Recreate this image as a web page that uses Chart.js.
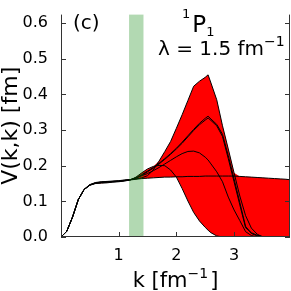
<!DOCTYPE html>
<html>
<head>
<meta charset="utf-8">
<script src="https://cdn.jsdelivr.net/npm/chart.js@4/dist/chart.umd.min.js"></script>
<style>
  html, body { margin: 0; padding: 0; background: #fff; }
  #wrap { width: 291px; height: 291px; position: relative; }
</style>
</head>
<body>
<div id="wrap"><canvas id="chartP1"></canvas></div>
<script>
// momentum grid, k in fm^-1
const kVals = [0,0.1,0.2,0.3,0.4,0.5,0.6,0.7,0.8,0.9,1.0,1.1,
  1.2,1.3,1.4,1.5,1.6,1.7,1.8,1.9,2.0,2.1,2.2,2.3,2.4,2.5,2.55,
  2.6,2.7,2.8,2.9,3.0,3.1,3.2,3.3,3.4,3.5,3.6,3.7,3.8,3.9,4.0];

// V(k,k) in fm, one array per curve
const curveA = [0,0.016,0.056,0.105,0.133,0.145,0.150,0.151,0.152,0.154,0.155,0.157,
  0.160,0.162,0.164,0.165,0.166,0.167,0.168,0.168,0.169,0.169,0.170,0.170,0.170,0.171,0.171,
  0.171,0.171,0.171,0.171,0.171,0.170,0.169,0.168,0.167,0.166,0.165,0.164,0.163,0.162,0.160];
const curveB = [0,0.016,0.056,0.105,0.133,0.146,0.151,0.153,0.154,0.155,0.156,0.158,
  0.160,0.168,0.180,0.191,0.198,0.201,0.200,0.188,0.168,0.136,0.101,0.069,0.045,0.027,0.019,
  0.012,0.003,0,0,0,0,0,0,0,0,0,0,0,0,0];
const curveC = [0,0.016,0.056,0.105,0.133,0.146,0.151,0.153,0.154,0.155,0.156,0.158,
  0.160,0.166,0.172,0.178,0.186,0.195,0.205,0.215,0.225,0.234,0.240,0.241,0.236,0.224,0.216,
  0.205,0.183,0.155,0.112,0.076,0.046,0.015,0.004,0,0,0,0,0,0,0];
const curveD = [0,0.016,0.056,0.105,0.133,0.146,0.152,0.154,0.155,0.156,0.157,0.159,
  0.161,0.166,0.175,0.185,0.195,0.207,0.220,0.234,0.249,0.266,0.284,0.302,0.319,0.333,0.339,
  0.331,0.316,0.288,0.228,0.163,0.097,0.030,0.010,0.003,0,0,0,0,0,0];
const curveE = [0,0.016,0.056,0.105,0.133,0.146,0.152,0.154,0.155,0.156,0.157,0.159,
  0.161,0.165,0.173,0.183,0.193,0.205,0.218,0.232,0.247,0.263,0.281,0.299,0.315,0.328,0.334,
  0.327,0.312,0.282,0.220,0.155,0.090,0.026,0.012,0.005,0.001,0,0,0,0,0];
const curveF = [0,0.016,0.056,0.105,0.134,0.147,0.153,0.155,0.156,0.157,0.158,0.160,
  0.161,0.163,0.166,0.172,0.188,0.213,0.240,0.268,0.305,0.343,0.383,0.423,0.437,0.448,0.455,
  0.432,0.385,0.312,0.247,0.180,0.115,0.060,0.025,0.008,0,0,0,0,0,0];

const xTicks = [1, 2, 3];
const yTicks = [0, 0.1, 0.2, 0.3, 0.4, 0.5, 0.6];
const bandK = [1.18, 1.43];   // shaded momentum window

const curves = [curveA, curveB, curveC, curveD, curveE, curveF];
const upper = kVals.map((_, i) => Math.max(...curves.map(c => c[i])));
const lower = kVals.map((_, i) => Math.min(...curves.map(c => c[i])));
const pts = arr => kVals.map((k, i) => ({ x: k, y: arr[i] }));

const FONT = '"DejaVu Sans", sans-serif';

// write base text followed by a raised/lowered smaller piece, returns x after
function textRun(ctx, parts, x, y) {
  parts.forEach(p => {
    ctx.font = p.size + 'px ' + FONT;
    ctx.fillText(p.t, x, y + (p.dy || 0));
    x += ctx.measureText(p.t).width + (p.gap || 0);
  });
  return x;
}

const decor = {
  id: 'decor',
  afterDatasetsDraw(chart) {
    const { ctx, chartArea: a, scales: { x, y } } = chart;
    ctx.save();
    // green band on top of the curves
    const b0 = x.getPixelForValue(bandK[0]), b1 = x.getPixelForValue(bandK[1]);
    ctx.fillStyle = 'rgba(0,128,0,0.3)';
    ctx.fillRect(b0, a.top, b1 - b0, a.bottom - a.top);

    // frame (top is off the picture)
    ctx.strokeStyle = '#333';
    ctx.lineWidth = 1;
    ctx.beginPath();
    ctx.moveTo(a.left + 0.5, a.top); ctx.lineTo(a.left + 0.5, a.bottom - 0.5);
    ctx.lineTo(a.right - 0.5, a.bottom - 0.5); ctx.lineTo(a.right - 0.5, a.top);
    // inward ticks
    yTicks.forEach(v => {
      const py = Math.round(y.getPixelForValue(v)) + 0.5;
      ctx.moveTo(a.left, py); ctx.lineTo(a.left + 5, py);
      ctx.moveTo(a.right, py); ctx.lineTo(a.right - 5, py);
    });
    xTicks.forEach(v => {
      const px = Math.round(x.getPixelForValue(v)) + 0.5;
      ctx.moveTo(px, a.bottom); ctx.lineTo(px, a.bottom - 5);
    });
    ctx.stroke();
    ctx.restore();
  },
  afterDraw(chart) {
    const { ctx, chartArea: a } = chart;
    ctx.save();
    ctx.fillStyle = '#000';
    ctx.textBaseline = 'alphabetic';
    ctx.textAlign = 'left';
    ctx.font = '20px ' + FONT;
    ctx.fillText('(c)', 73, 29);
    // 1P1 label
    textRun(ctx, [
      { t: '1', size: 13, dy: -14, gap: 2 },
      { t: 'P', size: 23 },
      { t: '1', size: 13, dy: 4 }
    ], 182, 32);
    // lambda label
    textRun(ctx, [
      { t: 'λ = 1.5 fm', size: 20 },
      { t: '−1', size: 14, dy: -9 }
    ], 158, 55);
    // x axis label, centred under the plot
    const xParts = [
      { t: 'k [fm', size: 21 },
      { t: '−1', size: 14, dy: -9, gap: 2 },
      { t: ']', size: 21 }
    ];
    let w = 0;
    xParts.forEach(p => { ctx.font = p.size + 'px ' + FONT; w += ctx.measureText(p.t).width + (p.gap || 0); });
    textRun(ctx, xParts, (a.left + a.right) / 2 - w / 2, 287);
    ctx.restore();
  }
};

const lineDs = (data) => ({
  data: pts(data), borderColor: '#000', borderWidth: 1,
  pointRadius: 0, fill: false, tension: 0
});

new Chart(document.getElementById('chartP1'), {
  type: 'line',
  data: {
    datasets: [
      { data: pts(upper), borderWidth: 0, pointRadius: 0, fill: '+1', backgroundColor: '#ff0000', tension: 0 },
      { data: pts(lower), borderWidth: 0, pointRadius: 0, fill: false, tension: 0 },
      lineDs(curveA), lineDs(curveB), lineDs(curveC),
      lineDs(curveD), lineDs(curveE), lineDs(curveF)
    ]
  },
  options: {
    responsive: true, maintainAspectRatio: false, animation: false,
    layout: { padding: { top: 0, right: 1, left: 0, bottom: 0 } },
    plugins: {
      legend: { display: false }, tooltip: { enabled: false },
      filler: { drawTime: 'beforeDatasetsDraw' }
    },
    scales: {
      x: {
        type: 'linear', min: 0, max: 3.97,
        grid: { display: false }, border: { display: false },
        afterBuildTicks: s => { s.ticks = xTicks.map(v => ({ value: v })); },
        afterFit: s => { s.height = 54; },
        ticks: { color: '#000', font: { family: FONT, size: 16 }, padding: 1, callback: v => String(v) }
      },
      y: {
        type: 'linear', min: 0, max: 0.624,
        grid: { display: false }, border: { display: false },
        afterBuildTicks: s => { s.ticks = yTicks.map(v => ({ value: v })); },
        afterFit: s => { s.width = 61; },
        ticks: { color: '#000', font: { family: FONT, size: 16 }, padding: 5, callback: v => v.toFixed(1) },
        title: { display: true, text: 'V(k,k) [fm]', color: '#000', font: { family: FONT, size: 22, lineHeight: 1 }, padding: 0 }
      }
    }
  },
  plugins: [decor]
});
</script>
</body>
</html>
